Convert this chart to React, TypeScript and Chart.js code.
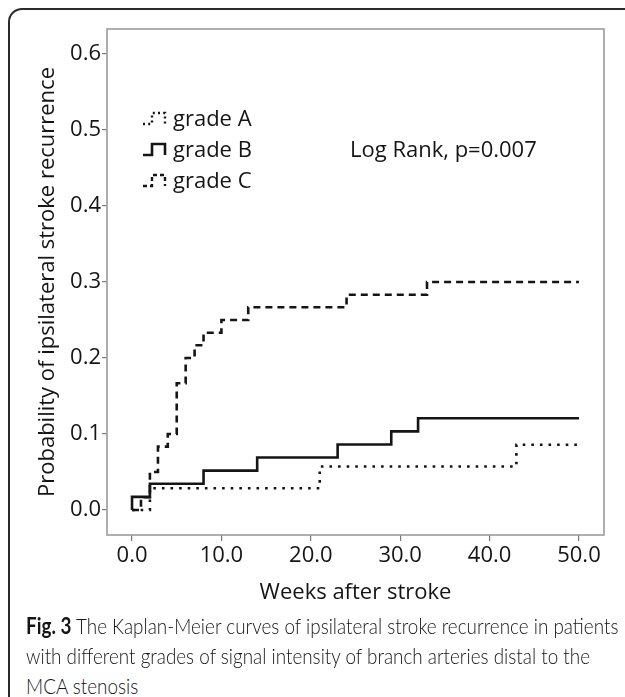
import React, { useEffect, useRef } from "react";
import { Chart, registerables } from "chart.js";

Chart.register(...registerables);

// ---- data ----
const xTicks = [0, 10, 20, 30, 40, 50];
const yTicks = [0, 0.1, 0.2, 0.3, 0.4, 0.5, 0.6];

const gradeATimes = [0, 2, 21, 43, 50];
const gradeAValues = [0, 0.0286, 0.0571, 0.0857, 0.0857];

const gradeBTimes = [0, 0, 2, 8, 14, 23, 29, 32, 50];
const gradeBValues = [0, 0.0172, 0.0345, 0.0517, 0.069, 0.0862, 0.1034, 0.1207, 0.1207];

const gradeCTimes = [0, 1, 2, 2.9, 4, 5, 6, 7, 8, 10, 13, 24, 33, 50];
const gradeCValues = [0, 0.0167, 0.05, 0.0833, 0.1, 0.1667, 0.2, 0.2167, 0.2333, 0.25, 0.2667, 0.2833, 0.3, 0.3];

const seriesLabels = ["grade A", "grade B", "grade C"];
const annotationText = "Log Rank, p=0.007";
const xTitle = "Weeks after stroke";
const yTitle = "Probability of ipsilateral stroke recurrence";

const FONT = '"Open Sans", "DejaVu Sans", sans-serif';
const INK = "#151515";
const FS = 22;

const dashA = [2.6, 6];
const dashB: number[] = [];
const dashC = [7, 5];

function toPoints(xs: number[], ys: number[]) {
  return xs.map((x, i) => ({ x, y: ys[i] }));
}

const framePlugin = {
  id: "frame",
  beforeDatasetsDraw(chart: any) {
    const { ctx, chartArea: a } = chart;
    ctx.save();
    ctx.strokeStyle = "#9c9c9c";
    ctx.lineWidth = 1.6;
    ctx.strokeRect(a.left, a.top, a.right - a.left, a.bottom - a.top);
    ctx.restore();
  },
};

const legendPlugin = {
  id: "kmLegend",
  afterDraw(chart: any) {
    const { ctx, chartArea: a } = chart;
    const dashes = [[2, 3.2], [], [4, 3]];
    const widths = [2.4, 2.6, 2.4];
    const gx = a.left + 36;
    const tx = a.left + 66;
    ctx.save();
    seriesLabels.forEach((lab, i) => {
      const b = a.top + 97 + i * 31;
      ctx.beginPath();
      ctx.setLineDash(dashes[i]);
      ctx.lineWidth = widths[i];
      ctx.strokeStyle = INK;
      ctx.moveTo(gx, b - 2);
      ctx.lineTo(gx + 9, b - 2);
      ctx.lineTo(gx + 9, b - 13);
      ctx.lineTo(gx + 22, b - 13);
      ctx.lineTo(gx + 22, b - 2);
      ctx.stroke();
      ctx.setLineDash([]);
      ctx.fillStyle = INK;
      ctx.font = `${FS}px ${FONT}`;
      ctx.textBaseline = "alphabetic";
      ctx.textAlign = "left";
      ctx.fillText(lab, tx, b);
    });
    ctx.fillText(annotationText, a.left + 243, a.top + 128);
    ctx.restore();
  },
};

const captionLines = [
  { bold: "Fig. 3", rest: " The Kaplan-Meier curves of ipsilateral stroke recurrence in patients" },
  { bold: "", rest: "with different grades of signal intensity of branch arteries distal to the" },
  { bold: "", rest: "MCA stenosis" },
];

export default function App() {
  const canvasRef = useRef<HTMLCanvasElement | null>(null);
  const lineRefs = useRef<(HTMLDivElement | null)[]>([]);

  useEffect(() => {
    document.body.style.margin = "0";
    document.body.style.overflow = "hidden";
    const canvas = canvasRef.current!;
    const chart = new Chart(canvas, {
      type: "line",
      data: {
        datasets: [
          {
            label: seriesLabels[0],
            data: toPoints(gradeATimes, gradeAValues),
            stepped: "before",
            borderColor: INK,
            borderWidth: 2.6,
            borderDash: dashA,
            pointRadius: 0,
            fill: false,
          },
          {
            label: seriesLabels[1],
            data: toPoints(gradeBTimes, gradeBValues),
            stepped: "before",
            borderColor: INK,
            borderWidth: 2.6,
            borderDash: dashB,
            pointRadius: 0,
            fill: false,
          },
          {
            label: seriesLabels[2],
            data: toPoints(gradeCTimes, gradeCValues),
            stepped: "before",
            borderColor: INK,
            borderWidth: 2.6,
            borderDash: dashC,
            pointRadius: 0,
            fill: false,
          },
        ] as any,
      },
      options: {
        animation: false,
        responsive: false,
        devicePixelRatio: 1,
        layout: { padding: { top: 29, right: 21, left: 0, bottom: 0 } },
        plugins: { legend: { display: false }, tooltip: { enabled: false } },
        scales: {
          x: {
            type: "linear",
            min: -2.8,
            max: 52.8,
            afterBuildTicks: (s: any) => {
              s.ticks = xTicks.map((v) => ({ value: v }));
            },
            afterFit: (s: any) => {
              s.height = 90;
            },
            grid: { drawOnChartArea: false, drawTicks: true, tickLength: 6, color: "#7a7a7a", lineWidth: 1.2 },
            border: { display: false },
            ticks: {
              callback: (v: any) => Number(v).toFixed(1),
              font: { family: FONT, size: FS },
              color: INK,
              padding: 2,
              maxRotation: 0,
              autoSkip: false,
            },
            title: {
              display: true,
              text: xTitle,
              font: { family: FONT, size: FS },
              color: INK,
              padding: { top: 0, bottom: 19 },
            },
          },
          y: {
            type: "linear",
            min: -0.033,
            max: 0.633,
            afterBuildTicks: (s: any) => {
              s.ticks = yTicks.map((v) => ({ value: v }));
            },
            afterFit: (s: any) => {
              s.width = 107;
            },
            grid: { drawOnChartArea: false, drawTicks: true, tickLength: 5, color: "#7a7a7a", lineWidth: 1.2 },
            border: { display: false },
            ticks: {
              callback: (v: any) => Number(v).toFixed(1),
              font: { family: FONT, size: FS },
              color: INK,
              padding: 1,
              autoSkip: false,
            },
            title: {
              display: true,
              text: yTitle,
              font: { family: FONT, size: FS },
              color: INK,
              padding: { top: 35, bottom: 0 },
            },
          },
        },
      } as any,
      plugins: [framePlugin, legendPlugin],
    });

    // fit caption lines horizontally with a common scale
    const ref = lineRefs.current[1];
    if (ref) {
      const w = ref.getBoundingClientRect().width;
      const k = 564 / w;
      lineRefs.current.forEach((el) => {
        if (el) el.style.transform = `scaleX(${k})`;
      });
    }

    return () => chart.destroy();
  }, []);

  return (
    <div style={{ position: "relative", width: 625, height: 697, overflow: "hidden", background: "#fff" }}>
      <div
        style={{
          position: "absolute",
          left: 8,
          top: 8,
          width: 640,
          height: 720,
          boxSizing: "border-box",
          border: "2px solid #2b2b2b",
          borderTopLeftRadius: 14,
        }}
      />
      <canvas ref={canvasRef} width={625} height={625} style={{ position: "absolute", left: 0, top: 0, width: 625, height: 625 }} />
      {captionLines.map((ln, i) => (
        <div
          key={i}
          ref={(el) => {
            lineRefs.current[i] = el;
          }}
          style={{
            position: "absolute",
            left: 26,
            top: 611 + i * 30,
            whiteSpace: "nowrap",
            fontFamily: 'Lato, "Open Sans", sans-serif',
            fontWeight: 300,
            fontSize: 22,
            lineHeight: "30px",
            color: INK,
            transformOrigin: "0 0",
          }}
        >
          {ln.bold ? <span style={{ fontWeight: 700 }}>{ln.bold}</span> : null}
          {ln.rest}
        </div>
      ))}
    </div>
  );
}
